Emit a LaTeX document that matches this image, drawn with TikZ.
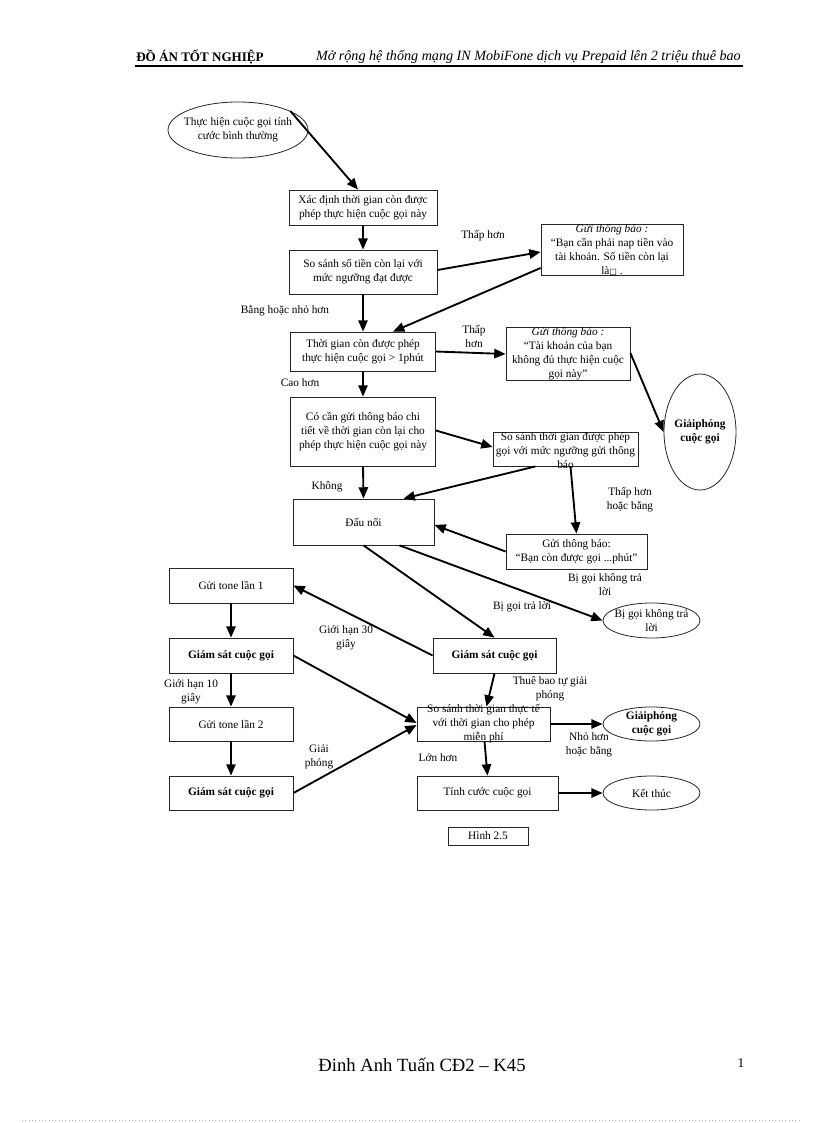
\documentclass[tikz,border=0pt]{standalone}
\usepackage{fontspec}
\setmainfont{Liberation Serif}
\newfontfamily\symfnt{DejaVu Sans}
\usetikzlibrary{arrows.meta,shapes.geometric,calc}
\begin{document}
\begin{tikzpicture}[x=0.75pt,y=-0.75pt,
  every node/.style={font=\fontsize{8.5}{10.5}\selectfont, inner sep=0pt, align=center},
  box/.style={draw=black!85, line width=0.6pt, rectangle},
  ebox/.style={draw=black!85, line width=0.6pt, ellipse},
  lbl/.style={fill=none},
  arr/.style={line width=1.4pt, -{Triangle[length=8.5pt,width=7pt]}}]
\useasboundingbox (0,0) rectangle (816,1123);
% header
\node[anchor=west, font=\fontsize{9.8}{11}\selectfont\bfseries] (hl) at (136,57) {ĐỒ ÁN TỐT NGHIỆP};
\node[anchor=east, font=\fontsize{10.6}{12}\selectfont\itshape] (hr) at (741,57) {Mở rộng hệ thống mạng IN MobiFone dịch vụ Prepaid lên 2 triệu thuê bao};
\coordinate (h1) at (135,66);
\coordinate (h2) at (743,66);
\draw[line width=0.8pt] (h1) -- (h2);
% nodes
\node[ebox, minimum width=140*0.75pt, minimum height=56*0.75pt, label={[align=center]center:Thực hiện cuộc gọi tính\\cước bình thường}] (start) at (238,130) {};
\node[box, minimum width=148*0.75pt, minimum height=35*0.75pt] (A) at (363,207.5) {Xác định thời gian còn được\\phép thực hiện cuộc gọi này};
\node[box, minimum width=148*0.75pt, minimum height=44*0.75pt] (B) at (363,272) {So sánh số tiền còn lại với\\mức ngưỡng đạt được};
\node[box, minimum width=142*0.75pt, minimum height=50*0.75pt] (C) at (612,250) {\textit{Gửi thông báo :}\\“Bạn cần phải nap tiền vào\\tài khoản. Số tiền còn lại\\là{\symfnt\fontsize{6}{7}\selectfont □} .};
\node[box, minimum width=145*0.75pt, minimum height=39*0.75pt] (D) at (363,351.5) {Thời gian còn được phép\\thực hiện cuộc gọi > 1phút};
\node[box, minimum width=124*0.75pt, minimum height=52*0.75pt] (E) at (568,354) {\textit{Gửi thông báo :}\\“Tài khoản của bạn\\không đủ thực hiện cuộc\\gọi này”};
\node[ebox, minimum width=72*0.75pt, minimum height=116*0.75pt, label={[align=center, font=\fontsize{8.5}{10.5}\selectfont\bfseries]center:Giảiphóng\\cuộc gọi}] (F) at (700,432) {};
\node[box, minimum width=145*0.75pt, minimum height=69*0.75pt] (G) at (363,431.5) {Có cần gửi thông báo chi\\tiết về thời gian còn lại cho\\phép thực hiện cuộc gọi này};
\node[box, minimum width=145*0.75pt, minimum height=34*0.75pt, label={[font=\fontsize{8.5}{10.5}\selectfont, align=center, yshift=-1.5pt]center:So sánh thời gian được phép\\gọi với mức ngưỡng gửi thông\\báo}] (H) at (565.5,449) {};
\node[box, minimum width=141*0.75pt, minimum height=46*0.75pt] (I) at (363.5,522) {Đấu nối};
\node[box, minimum width=141*0.75pt, minimum height=35*0.75pt] (J) at (576.5,551.5) {Gửi thông báo:\\“Bạn còn được gọi ...phút”};
\node[box, minimum width=124*0.75pt, minimum height=35*0.75pt] (K) at (231,585.5) {Gửi tone lần 1};
\node[ebox, minimum width=97*0.75pt, minimum height=35*0.75pt, label={[align=center]center:Bị gọi không trả\\lời}] (L) at (651.5,620.5) {};
\node[box, minimum width=124*0.75pt, minimum height=35*0.75pt, font=\fontsize{8.5}{10.5}\selectfont\bfseries] (M) at (231,655.5) {Giám sát cuộc gọi};
\node[box, minimum width=123*0.75pt, minimum height=35*0.75pt, font=\fontsize{8.5}{10.5}\selectfont\bfseries] (N) at (494.5,655.5) {Giám sát cuộc gọi};
\node[box, minimum width=124*0.75pt, minimum height=34*0.75pt] (O) at (231,724) {Gửi tone lần 2};
\node[box, minimum width=133*0.75pt, minimum height=34*0.75pt, label={[font=\fontsize{8.5}{10.5}\selectfont, align=center]center:So sánh thời gian thực tế\\với thời gian cho phép\\miễn phí}] (P) at (483.5,724) {};
\node[ebox, minimum width=97*0.75pt, minimum height=34*0.75pt, label={[align=center, font=\fontsize{8.5}{10.5}\selectfont\bfseries]center:Giảiphóng\\cuộc gọi}] (Q) at (651.5,724) {};
\node[box, minimum width=124*0.75pt, minimum height=34*0.75pt, font=\fontsize{8.5}{10.5}\selectfont\bfseries] (R) at (231,793) {Giám sát cuộc gọi};
\node[box, minimum width=141*0.75pt, minimum height=34*0.75pt] (S) at (487.5,793) {Tính cước cuộc gọi};
\node[ebox, minimum width=97*0.75pt, minimum height=34*0.75pt, label={[align=center]center:Kết thúc}] (T) at (651.5,793) {};
\node[box, minimum width=80*0.75pt, minimum height=18*0.75pt] (fig) at (488,836) {Hình 2.5};
% labels
\node[lbl] (l1) at (483,236) {Thấp hơn};
\node[lbl] (l2) at (285,311) {Bằng hoặc nhỏ hơn};
\node[lbl] (l3) at (474,336) {Thấp\\hơn};
\node[lbl] (l4) at (300,383) {Cao hơn};
\node[lbl] (l5) at (327,487) {Không};
\node[lbl] (l6) at (630,500) {Thấp hơn\\hoặc bằng};
\node[lbl] (l7) at (605,585) {Bị gọi không trả\\lời};
\node[lbl] (l8) at (522,607) {Bị gọi trả lời};
\node[lbl] (l9) at (346,638) {Giới hạn 30\\giây};
\node[lbl] (l10) at (191,692) {Giới hạn 10\\giây};
\node[lbl] (l11) at (319,757) {Giải\\phóng};
\node[lbl] (l12) at (550,689) {Thuê bao tự giải\\phóng};
\node[lbl] (l13) at (589,745) {Nhỏ hơn\\hoặc bằng};
\node[lbl] (l14) at (438,758) {Lớn hơn};
% arrows
\draw[arr] (start.20) -- ($(A.north)+(-5,0)$);
\draw[arr] (A.south) -- (B.north);
\draw[arr] ($(B.east)+(0,-2)$) -- ($(C.west)+(0,2)$);
\draw[arr] ($(C.west)+(0,18)$) -- ($(D.north)+(30,0)$);
\draw[arr] (B.south) -- (D.north);
\draw[arr] (D.east) -- (E.west);
\draw[arr] ($(E.east)+(0,-1)$) -- (F.west);
\draw[arr] (D.south) -- (G.north);
\draw[arr] ($(G.east)+(0,-1)$) -- ($(H.west)+(0,-2)$);
\draw[arr] (G.south) -- (I.north);
\draw[arr] ($(H.south)+(-30,0)$) -- ($(I.north)+(40,0)$);
\draw[arr] ($(H.south)+(5,0)$) -- (J.north);
\draw[arr] (J.west) -- ($(I.east)+(0,3)$);
\draw[arr] (I.south) -- (N.north);
\draw[arr] ($(I.south)+(36,0)$) -- (L.west);
\draw[arr] (N.west) -- (K.east);
\draw[arr] (K.south) -- (M.north);
\draw[arr] (M.south) -- (O.north);
\draw[arr] (O.south) -- (R.north);
\draw[arr] (M.east) -- ($(P.west)+(0,-1)$);
\draw[arr] (R.east) -- ($(P.west)+(0,1)$);
\draw[arr] (N.south) -- ($(P.north)+(3,0)$);
\draw[arr] (P.east) -- (Q.west);
\draw[arr] ($(P.south)+(1,0)$) -- (S.north);
\draw[arr] (S.east) -- (T.west);
% footer
\node[font=\fontsize{14}{16}\selectfont] (ft) at (422,1065) {Đinh Anh Tuấn CĐ2 – K45};
\node[font=\fontsize{10}{12}\selectfont] (pg) at (741,1063) {1};
\coordinate (d1) at (22,1120);
\coordinate (d2) at (800,1120);
\draw[black!30, dotted, line width=0.5pt] (d1) -- (d2);
\end{tikzpicture}
\end{document}
